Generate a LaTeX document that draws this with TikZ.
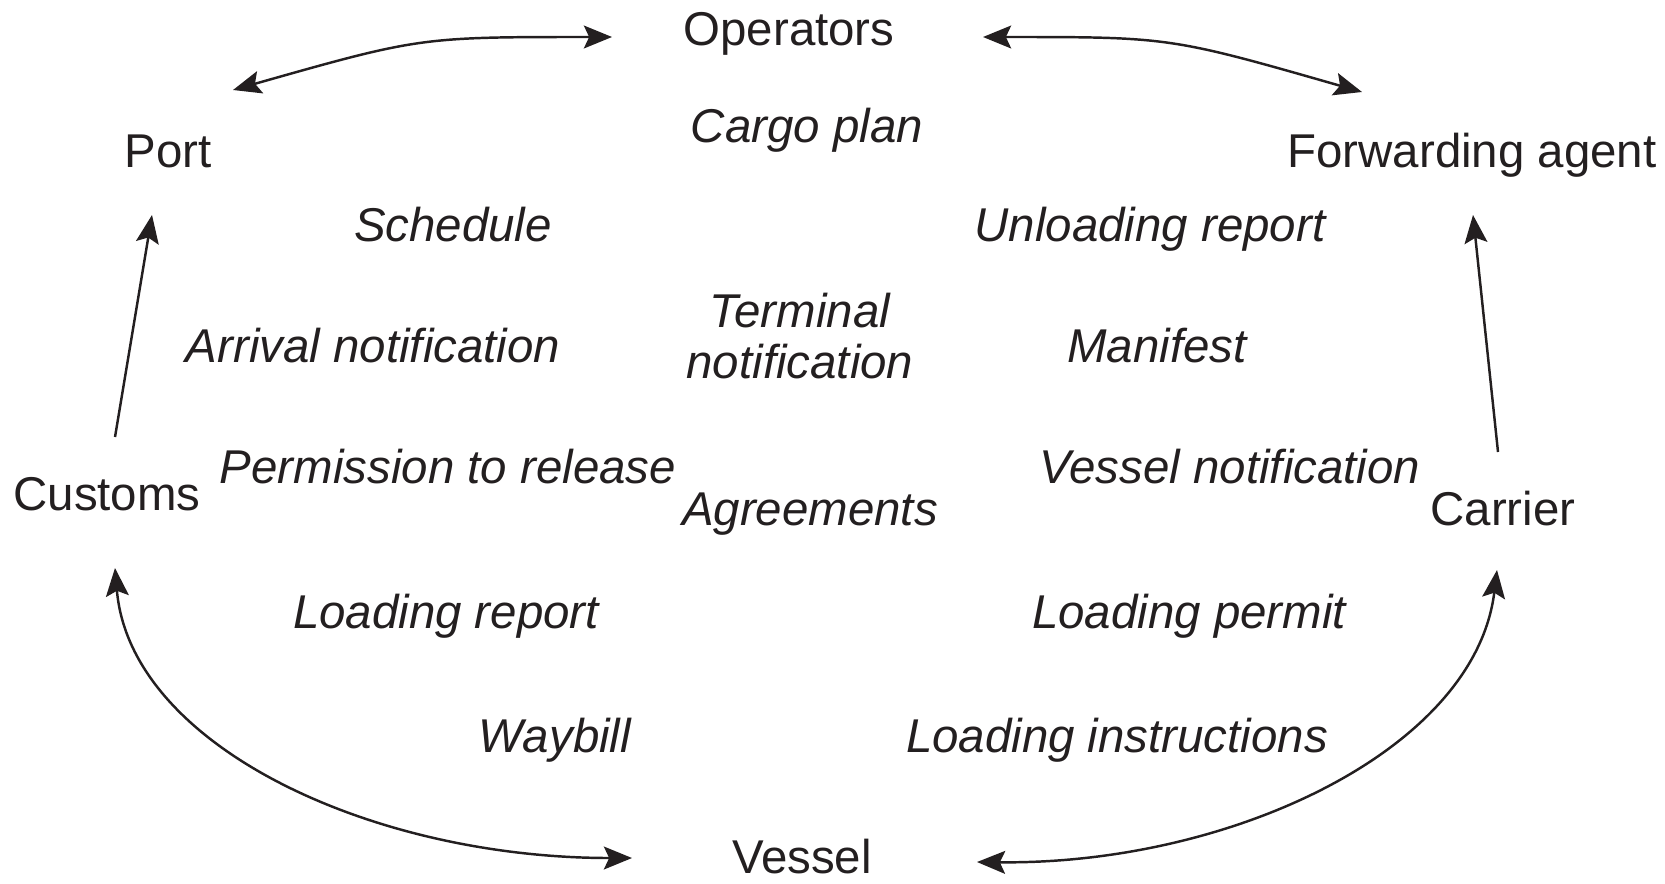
\documentclass[tikz,border=0pt]{standalone}
\usepackage{fontspec}
\setmainfont{Liberation Sans}
\usetikzlibrary{arrows.meta,calc}
\definecolor{ink}{HTML}{231F20}
\begin{document}
\begin{tikzpicture}[x=0.02cm,y=-0.02cm,
  every node/.style={text=ink,inner sep=0pt,font=\fontsize{27}{29}\selectfont,
    text height=1.6em,text depth=0pt},
  party/.style={},
  doc/.style={font=\fontsize{27}{29}\selectfont\itshape},
  tip/.tip={Stealth[length=16pt,width=13pt,inset=3pt]},
  arr/.style={draw=ink,line width=1.4pt,-tip},
  darr/.style={draw=ink,line width=1.4pt,tip-tip}]
\useasboundingbox (0,0) rectangle (1665,883);

% parties
\node[party] (op)   at (789,31)  {Operators};
\node[party] (port) at (168,153) {Port};
\node[party] (fwd)  at (1472,153) {Forwarding agent};
\node[party] (cust) at (107,496) {Customs};
\node[party] (carr) at (1503,511) {Carrier};
\node[party] (ves)  at (802,859) {Vessel};

% documents exchanged
\node[doc] (cargo) at (807,128) {Cargo plan};
\node[doc] (sched) at (453,227) {Schedule};
\node[doc] (unl)   at (1150,227) {Unloading report};
\node[doc,align=center,text height=,text depth=] (term) at (800,336) {Terminal\\notification};
\node[doc] (arr)   at (373,348) {Arrival notification};
\node[doc] (man)   at (1157,348) {Manifest};
\node[doc] (perm)  at (448,469) {Permission to release};
\node[doc] (vn)    at (1230,469) {Vessel notification};
\node[doc] (agr)   at (810,511) {Agreements};
\node[doc] (lrep)  at (446,614) {Loading report};
\node[doc] (lper)  at (1189,614) {Loading permit};
\node[doc] (way)   at (555,738) {Waybill};
\node[doc] (lins)  at (1117,738) {Loading instructions};

% connector end points, placed beside the parties
\coordinate (opW)   at ($(op)+(-177,6)$);
\coordinate (opE)   at ($(op)+(194,6)$);
\coordinate (portNE) at ($(port)+(65,-63)$);
\coordinate (portS) at ($(port)+(-16,62)$);
\coordinate (fwdNW) at ($(fwd)+(-110,-61)$);
\coordinate (fwdS)  at ($(fwd)+(1,62)$);
\coordinate (custN) at ($(cust)+(8,-59)$);
\coordinate (custS) at ($(cust)+(8,72)$);
\coordinate (carrN) at ($(carr)+(-5,-59)$);
\coordinate (carrS) at ($(carr)+(-6,59)$);
\coordinate (vesW)  at ($(ves)+(-170,-1)$);
\coordinate (vesE)  at ($(ves)+(175,3)$);

% connectors
\draw[darr] (opW) .. controls (420,37) .. (portNE);
\draw[darr] (opE) .. controls (1170,37) .. (fwdNW);
\draw[arr] (custN) -- (portS);
\draw[arr] (carrN) -- (fwdS);
\draw[darr] (custS) .. controls (130,745) and (370,858) .. (vesW);
\draw[darr] (carrS) .. controls (1475,750) and (1230,865) .. (vesE);
\end{tikzpicture}
\end{document}
